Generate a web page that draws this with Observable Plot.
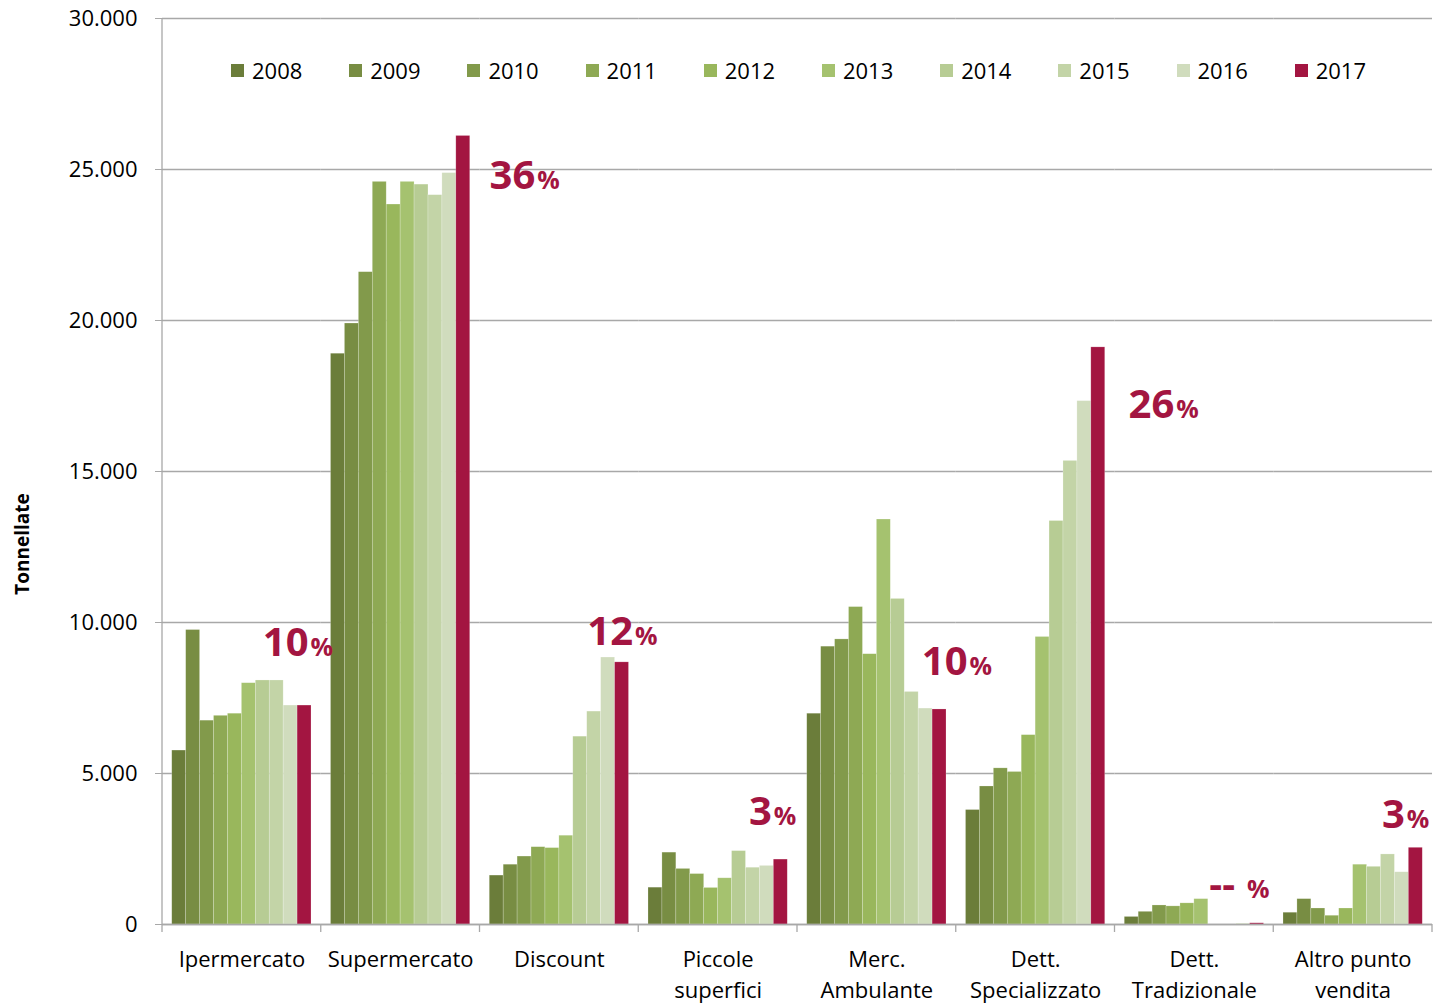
<!DOCTYPE html>
<html><head><meta charset="utf-8">
<script src="https://cdn.jsdelivr.net/npm/d3@7"></script>
<script src="https://cdn.jsdelivr.net/npm/@observablehq/plot@0.6"></script>
<style>
body{margin:0;background:#fff;font-family:"Open Sans",sans-serif;}
#wrap{position:relative;width:1437px;height:1004px;overflow:hidden;}
#legend{position:absolute;left:231px;top:56px;display:flex;}
.item{width:118.2px;display:flex;align-items:center;font-size:22px;color:#000;line-height:28px;}
.sw{width:13px;height:13px;margin-right:8px;flex:none;}
#ylab{position:absolute;left:22px;top:544px;transform:translate(-50%,-50%) rotate(-90deg);font-weight:700;font-size:19px;white-space:nowrap;color:#000;}
</style></head><body><div id="wrap"></div>
<script>
// ---- data ----
const categories = ["Ipermercato","Supermercato","Discount","Piccole superfici","Merc. Ambulante","Dett. Specializzato","Dett. Tradizionale","Altro punto vendita"];
const categoryLabels = ["Ipermercato","Supermercato","Discount","Piccole\nsuperfici","Merc.\nAmbulante","Dett.\nSpecializzato","Dett.\nTradizionale","Altro punto\nvendita"];
const years = ["2008","2009","2010","2011","2012","2013","2014","2015","2016","2017"];
const yearColors = ["#6b7d3a","#788d43","#829a4b","#8ea954","#99b75c","#a5c26f","#b7cc94","#c3d4a7","#d0dcbd","#a31541"];
const ipermercato   = [5760, 9750, 6750, 6910, 6980, 7990, 8080, 8080, 7250, 7250];
const supermercato  = [18900, 19900, 21600, 24590, 23840, 24590, 24500, 24150, 24880, 26110];
const discount      = [1620, 1980, 2250, 2560, 2530, 2940, 6220, 7050, 8840, 8680];
const piccole       = [1220, 2380, 1840, 1670, 1210, 1530, 2430, 1880, 1940, 2150];
const mercAmbulante = [6980, 9200, 9440, 10510, 8950, 13410, 10780, 7700, 7150, 7120];
const dettSpec      = [3790, 4570, 5170, 5050, 6270, 9520, 13360, 15350, 17330, 19110];
const dettTrad      = [250, 420, 630, 600, 700, 840, 0, 0, 30, 40];
const altro         = [390, 840, 530, 290, 530, 1980, 1910, 2320, 1730, 2540];
const seriesByCategory = [ipermercato, supermercato, discount, piccole, mercAmbulante, dettSpec, dettTrad, altro];
const yTicks = [0, 5000, 10000, 15000, 20000, 25000, 30000];
// share labels (2017)
const shareCats   = categories;
const shareNums   = ["10","36","12","3","10","26","--","3"];
const sharePct    = ["%","%","%","%","%","%","%","%"];

// ---- annotation placement (not data) ----
const shareY   = [8900, 24370, 9240, 3280, 8250, 16760, 890, 3210];
const shareNumDx = [4, 72, 11, -9, 28, 76, -22, -11];
const sharePctDx = [6, 74, 13, -7, 30, 78, -10, -9];

const table = categories.flatMap((c, i) => years.map((y, j) => ({cat: c, year: y, value: seriesByCategory[i][j]})));
const labelOf = new Map(categories.map((c, i) => [c, categoryLabels[i]]));

const it = d3.formatLocale({decimal: ",", thousands: ".", grouping: [3], currency: ["€", ""]});
const fmt = it.format(",.0f");
const crimson = "#a31541";
const gridColor = "#a8a8a8";

const shareMarks = shareCats.flatMap((c, i) => [
  Plot.text([{cat: c}], {fx: "cat", x: () => "2017", y: () => shareY[i], text: () => shareNums[i],
    dx: shareNumDx[i], textAnchor: "end", lineAnchor: "bottom", fontSize: 40, fontWeight: 700, fill: crimson}),
  Plot.text([{cat: c}], {fx: "cat", x: () => "2017", y: () => shareY[i], text: () => sharePct[i],
    dx: sharePctDx[i], textAnchor: "start", lineAnchor: "bottom", fontSize: 25, fontWeight: 700, fill: crimson})
]);

const chart = Plot.plot({
  width: 1437,
  height: 1004,
  marginTop: 18,
  marginBottom: 80,
  marginLeft: 162,
  marginRight: 5,
  style: {fontFamily: "'Open Sans', sans-serif", fontSize: "22px", color: "#000", background: "#fff"},
  fx: {domain: categories, padding: 0, round: false, label: null},
  x: {domain: years, paddingInner: 0, paddingOuter: 0.7, round: false, axis: null},
  y: {domain: [0, 30000], label: null},
  color: {domain: years, range: yearColors},
  marks: [
    Plot.gridY(yTicks, {stroke: gridColor, strokeOpacity: 1, strokeWidth: 1.3}),
    Plot.barY(table, {fx: "cat", x: "year", y: "value", fill: "year", inset: 0, stroke: "#fff", strokeOpacity: 0.35, strokeWidth: 0.6}),
    Plot.ruleY([0], {stroke: gridColor, strokeWidth: 1.3}),
    Plot.axisY(yTicks, {tickSize: 7, tickPadding: 18, tickFormat: fmt, fontSize: 22, stroke: gridColor, fill: "#000", label: null}),
    Plot.axisFx({anchor: "bottom", tickSize: 0, tickPadding: 20, fontSize: 22, lineHeight: 1.42, tickFormat: d => labelOf.get(d), label: null, fill: "#000"}),
    ...shareMarks
  ]
});

const wrap = document.getElementById("wrap");
wrap.appendChild(chart);

// axis line and category boundary ticks, from the plot's own scales
const fxS = chart.scale("fx");
const yS = chart.scale("y");
const bw = fxS.bandwidth ?? ((fxS.range[1] - fxS.range[0]) / categories.length);
const y0 = yS.apply(0), yTop = yS.apply(30000);
const svg = d3.select(chart);
const edges = categories.map(c => fxS.apply(c)).concat([fxS.apply(categories[categories.length - 1]) + bw]);
const g = svg.append("g").attr("stroke", gridColor).attr("stroke-width", 1.3);
g.append("line").attr("x1", edges[0]).attr("x2", edges[0]).attr("y1", yTop).attr("y2", y0);
edges.forEach(x => g.append("line").attr("x1", x).attr("x2", x).attr("y1", y0).attr("y2", y0 + 8));

// legend from color scale
const col = chart.scale("color");
const legend = d3.select(wrap).append("div").attr("id", "legend");
years.forEach(y => {
  const item = legend.append("div").attr("class", "item");
  item.append("div").attr("class", "sw").style("background", col.apply(y));
  item.append("span").text(y);
});
d3.select(wrap).append("div").attr("id", "ylab").text("Tonnellate");
</script>
</body></html>
